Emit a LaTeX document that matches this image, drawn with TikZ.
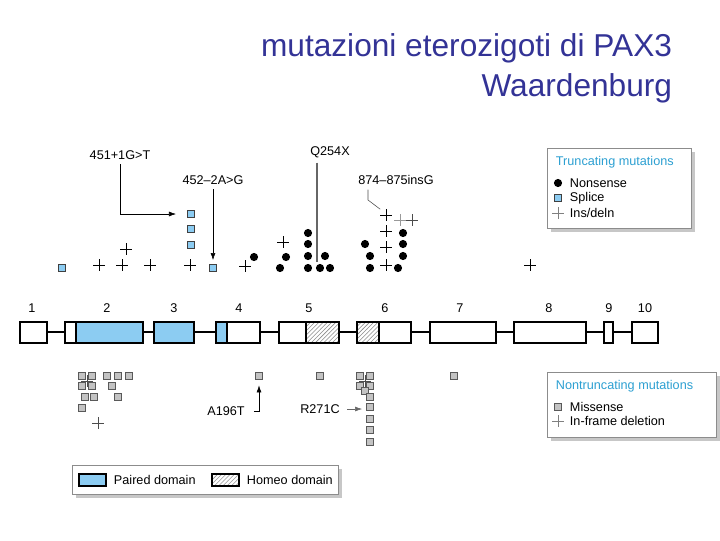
\documentclass[tikz,border=0pt]{standalone}
\usepackage{fontspec}
\setmainfont{Liberation Sans}
\usetikzlibrary{arrows.meta,patterns}
\definecolor{titleblue}{RGB}{51,51,150}
\definecolor{pairblue}{RGB}{140,204,242}
\definecolor{legcyan}{RGB}{45,160,210}
\definecolor{missgray}{RGB}{195,195,195}
\newcommand{\insmark}[3][black]{%
  \node[plusbox] (#2) at (#3) {};
  \draw[#1,line width=0.5pt] (#2.north) -- (#2.south) (#2.west) -- (#2.east);}

\begin{document}
\begin{tikzpicture}[x=0.025cm,y=-0.025cm,
  exon/.style={draw,line width=1pt,fill=white},
  nons/.style={circle,fill=black,inner sep=0pt,minimum size=5.8pt},
  splice/.style={draw=black!75,fill=pairblue,line width=0.6pt,inner sep=0pt,minimum size=4.7pt},
  miss/.style={draw=black!65,fill=missgray,line width=0.6pt,inner sep=0pt,minimum size=4.7pt},
  plusbox/.style={inner sep=0pt,minimum size=7.8pt},
  mlabel/.style={font=\fontsize{9}{11}\selectfont},
  legbox/.style={draw=black!45,fill=white,line width=0.6pt},
  legshadow/.style={fill=black!22}]
  \useasboundingbox (0,0) rectangle (720,540);
  % Title
  \node[anchor=east,text=titleblue,font=\fontsize{22.5}{27}\selectfont] (t1) at (677,48) {mutazioni eterozigoti di PAX3};
  \node[anchor=east,text=titleblue,font=\fontsize{22.5}{27}\selectfont] (t2) at (677,88) {Waardenburg};
  % Gene: introns and exons
  \draw[line width=1.2pt] (20,332) -- (658,332);
  \foreach \a/\b in {20/47,65/143,154/194,216/260,279/339,357/411,430/496,514/586,604/613,632/658}
    \draw[exon] (\a,322) rectangle (\b,343);
  \foreach \a/\b in {76/143,154/194,216/227}
    \draw[exon,fill=pairblue] (\a,322) rectangle (\b,343);
  \foreach \a/\b in {306/339,357/379}
    \draw[exon,pattern=north east lines,pattern color=black!45] (\a,322) rectangle (\b,343);
  \foreach \x/\n in {32/1,107/2,174/3,239/4,309/5,385/6,460/7,549/8,609/9,645/10}
    \node[mlabel] (e\n) at (\x,308) {\n};
  % Truncating mutations
  \foreach \x/\y [count=\i] in {191/214,213/268,191/229,191/245,62/268}
    \node[splice] (s\i) at (\x,\y) {};
  \foreach \x/\y [count=\i] in {254/257,286/257,280/268,308/233,308/244,308/256,308/268,325/256,320/268,330/268,
      365/244,370/256,370/268,403/233,403/244,403/256,398/268}
    \node[nons] (d\i) at (\x,\y) {};
  \insmark{p1}{386,215}
  \insmark{p2}{386,231}
  \insmark{p3}{386,247}
  \insmark{p4}{386,265}
  \insmark{p5}{99,265}
  \insmark{p6}{122,265}
  \insmark{p7}{126,249}
  \insmark{p8}{150,265}
  \insmark{p9}{190,265}
  \insmark{p10}{245,266}
  \insmark{p11}{283,242}
  \insmark{p12}{530,265}
  \insmark[black!40]{p13}{400,220}
  \insmark[black!70]{p14}{412,220}
  % Labels of truncating mutations
  \node[mlabel] (l1) at (120,155) {451+1G>T};
  \node[mlabel] (l2) at (213,180) {452–2A>G};
  \node[mlabel] (l3) at (330,152) {Q254X};
  \node[mlabel] (l4) at (396,180) {874–875insG};
  \draw[-{Latex[length=5pt,width=3.5pt]}] (l1.south) |- ([xshift=-8pt]s1.west);
  \draw[-{Latex[length=5pt,width=3.5pt]},shorten >=3pt] (l2.south) -- (s2.north);
  \coordinate (qend) at (317,262);
  \draw[black!60,line width=0.8pt] (qend |- l3.south) -- (qend);
  \coordinate (ibend) at (368,200);
  \draw[black!70,line width=0.4pt] (ibend |- l4.south) -- (ibend) -- (p1.north west);
  % Nontruncating mutations
  \foreach \x/\y [count=\i] in {259/376,370/407,82/376,92/376,82/386,92/386,107/376,118/376,129/376,112/386,
      85/397,94/397,118/397,82/408,320/376,360/376,370/376,360/386,370/386,365/391,370/397,370/419,370/430,370/442,454/376}
    \node[miss] (m\i) at (\x,\y) {};
  \insmark[black!70]{q1}{87,381}
  \insmark[black!70]{q2}{365,381}
  \insmark[black!70]{q3}{98,423}
  \node[mlabel] (a1) at (226,411) {A196T};
  \node[mlabel] (a2) at (320,409) {R271C};
  \draw[-{Latex[length=5pt,width=3.5pt]},shorten <=3pt,shorten >=4pt] (a1.east) -| (m1.south);
  \draw[black!60,-{Latex[length=5pt,width=3.5pt]},shorten <=2pt,shorten >=3pt] (a2.east) -- (a2.east -| m2.west);
  % Legend: truncating
  \fill[legshadow] (551,152) rectangle (695,232);
  \draw[legbox] (547,148) rectangle (691,228);
  \node[mlabel,anchor=west,text=legcyan] (lt) at (551,162) {Truncating mutations};
  \node[nons] (ln1) at (558,183) {};
  \node[mlabel,anchor=west] (lt1) at (565,183) {Nonsense};
  \node[splice] (ln2) at (558,198) {};
  \node[mlabel,anchor=west] (lt2) at (565,198) {Splice};
  \insmark[black!50]{ln3}{558,213}
  \node[mlabel,anchor=west] (lt3) at (565,213) {Ins/deln};
  % Legend: nontruncating
  \fill[legshadow] (551,376) rectangle (720,441);
  \draw[legbox] (547,372) rectangle (716,437);
  \node[mlabel,anchor=west,text=legcyan] (ln) at (551,386) {Nontruncating mutations};
  \node[miss] (lm1) at (558,407) {};
  \node[mlabel,anchor=west] (lm1t) at (565,407) {Missense};
  \insmark[black!50]{lm2}{558,421}
  \node[mlabel,anchor=west] (lm2t) at (565,421) {In-frame deletion};
  % Legend: domains
  \fill[legshadow] (76,469) rectangle (342,498);
  \draw[legbox] (72,465) rectangle (338,494);
  \draw[line width=0.8pt,fill=pairblue] (79,474) rectangle (106,486);
  \node[mlabel,anchor=west] (dp) at (109,480) {Paired domain};
  \draw[line width=0.8pt,pattern=north east lines,pattern color=black!40] (212,474) rectangle (239,486);
  \node[mlabel,anchor=west] (dh) at (242,480) {Homeo domain};
\end{tikzpicture}
\end{document}
